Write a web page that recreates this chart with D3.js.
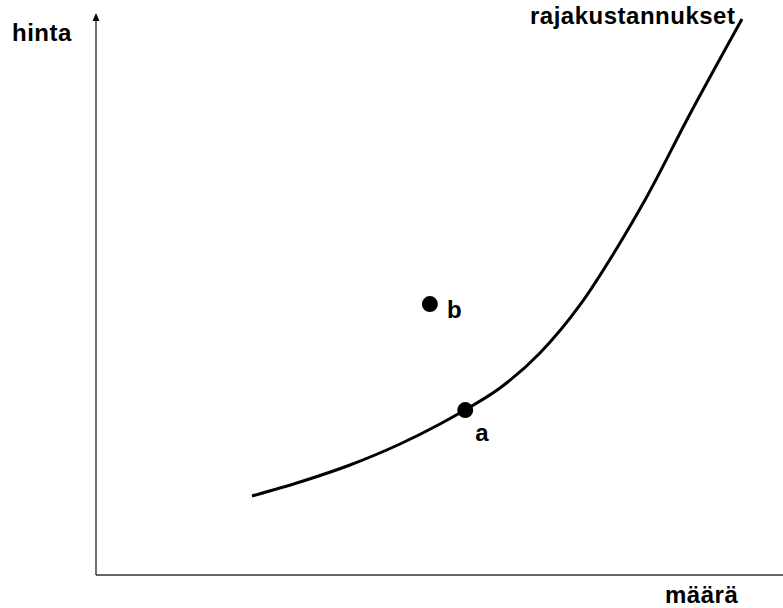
<!DOCTYPE html>
<html>
<head>
<meta charset="utf-8">
<script src="https://cdn.jsdelivr.net/npm/d3@7"></script>
<style>
html, body { margin: 0; padding: 0; background: #fff; }
svg { display: block; }
text { font-family: "Liberation Sans", Arial, sans-serif; font-weight: bold; fill: #000; letter-spacing: 0.5px; }
</style>
</head>
<body>
<svg id="chart" width="783" height="608"></svg>
<script>
// Marginal cost curve (arbitrary units 0..100)
const curveX = [22.94, 30.0, 37.35, 44.71, 50.59, 54.26, 59.41, 65.29, 71.18, 77.06, 80.74, 87.35, 95.0];
const curveY = [14.08, 16.58, 19.61, 23.35, 26.92, 29.41, 33.33, 39.57, 48.13, 59.18, 66.84, 82.17, 99.11];
// Points
const pointLabels = ["a", "b"];
const pointX = [54.3, 49.1];
const pointY = [29.4, 48.3];
// Axis titles
const yTitle = "hinta";
const xTitle = "määrä";
const curveTitle = "rajakustannukset";

const svg = d3.select("#chart");
const x = d3.scaleLinear().domain([0, 100]).range([96, 776]);
const y = d3.scaleLinear().domain([0, 100]).range([575, 14]);

// Axes
svg.append("line")
  .attr("x1", x(0)).attr("x2", 783)
  .attr("y1", y(0)).attr("y2", y(0))
  .attr("stroke", "#333").attr("stroke-width", 1.5);
svg.append("line")
  .attr("x1", x(0)).attr("x2", x(0))
  .attr("y1", y(0)).attr("y2", y(100) + 4)
  .attr("stroke", "#222").attr("stroke-width", 1.3);
// arrowhead on y axis
svg.append("path")
  .attr("d", `M${x(0)},${y(100) - 1} L${x(0) - 3.5},${y(100) + 7} L${x(0) + 3.5},${y(100) + 7} Z`)
  .attr("fill", "#000");

// Curve
const pts = curveX.map((d, i) => [d, curveY[i]]);
const line = d3.line().x(d => x(d[0])).y(d => y(d[1])).curve(d3.curveMonotoneX);
svg.append("path")
  .attr("d", line(pts))
  .attr("fill", "none").attr("stroke", "#000").attr("stroke-width", 3);

// Points
const labelOffset = { a: [10, 31], b: [17, 14] };
pointLabels.forEach((lab, i) => {
  svg.append("circle")
    .attr("cx", x(pointX[i])).attr("cy", y(pointY[i]))
    .attr("r", 8).attr("fill", "#000");
  svg.append("text")
    .attr("x", x(pointX[i]) + labelOffset[lab][0])
    .attr("y", y(pointY[i]) + labelOffset[lab][1])
    .attr("font-size", 24)
    .text(lab);
});

// Titles
svg.append("text").attr("x", 12).attr("y", 41).attr("font-size", 24).text(yTitle);
svg.append("text").attr("x", 665).attr("y", 603).attr("font-size", 24).text(xTitle);
svg.append("text").attr("x", 530).attr("y", 24).attr("font-size", 24).text(curveTitle);
</script>
</body>
</html>
